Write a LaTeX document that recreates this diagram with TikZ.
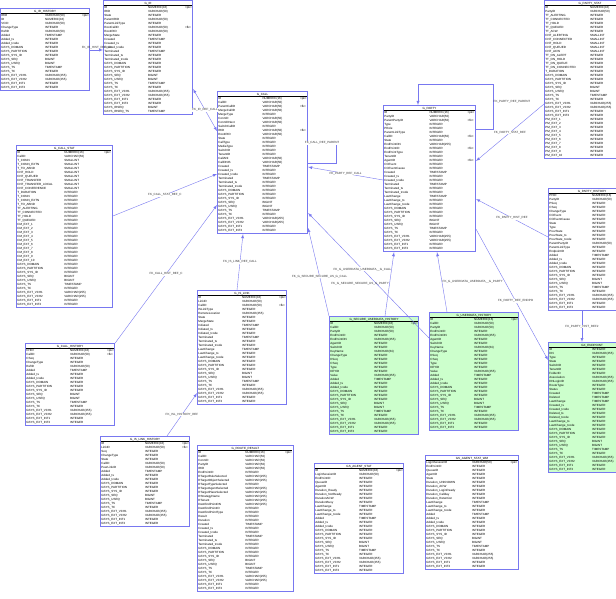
\documentclass[tikz,border=0pt]{standalone}
\usepackage{fontspec}
\setmainfont{Liberation Sans}
\usetikzlibrary{calc}
\definecolor{erline}{RGB}{120,120,240}
\definecolor{ergreen}{RGB}{204,255,204}
\tikzset{
	ertbl/.style={draw=erline, thick, anchor=north west, inner sep=1pt, font=\fontsize{3}{4}\selectfont},
	fk/.style={draw=erline, ->, >=latex},
	lbl/.style={font=\fontsize{3}{4}\selectfont, inner sep=0.5pt, text=black!80}
}
\catcode`\_=12
\newcommand\gsys{GSYS_DOMAIN&INTEGER&\\GSYS_PARTITION&INTEGER&\\GSYS_SYS_ID&INTEGER&\\GSYS_SEQ&BIGINT&\\GSYS_USEQ&BIGINT&\\GSYS_TS&TIMESTAMP&\\GSYS_TC&INTEGER&\\GSYS_EXT_VCH1&VARCHAR(255)&\\GSYS_EXT_VCH2&VARCHAR(255)&\\GSYS_EXT_INT1&INTEGER&\\GSYS_EXT_INT2&INTEGER&\\}
% name, x, y, width, fill, rows
\newcommand\ertable[6]{%
	\node[ertbl, fill=#5] (#1) at (#2,#3) {\begin{tabular}{@{}p{\dimexpr#4pt*48/100\relax}p{\dimexpr#4pt*38/100\relax}p{\dimexpr#4pt*10/100\relax}@{}}
	\multicolumn{3}{c}{#1}\\\hline #6\end{tabular}};}
\begin{document}
\begin{tikzpicture}[x=1pt, y=-1pt]
	\useasboundingbox[fill=white] (0,0) rectangle (616,599);
	\ertable{G_IR_HISTORY}{0}{8}{66}{white}{IRID&VARCHAR(50)&<pk>\\ID&NUMERIC(16)&\\VCID&VARCHAR(50)&\\ChangeType&INTEGER&\\RefID&VARCHAR(50)&\\Added&TIMESTAMP&\\Added_ts&INTEGER&\\Added_tcode&INTEGER&\\\gsys}
	\ertable{G_IR}{103}{0}{66}{white}{ID&NUMERIC(16)&<pk>\\IRID&VARCHAR(50)&\\State&INTEGER&\\ParentIRID&VARCHAR(50)&\\ParentLinkType&INTEGER&\\RootCallID&VARCHAR(50)&<fk>\\RootIRID&VARCHAR(50)&\\MergeState&INTEGER&\\Created&TIMESTAMP&\\Created_ts&INTEGER&\\Created_tcode&INTEGER&\\Terminated&TIMESTAMP&\\Terminated_ts&INTEGER&\\Terminated_tcode&INTEGER&\\\gsys GSYS_IRSEQ&BIGINT&\\GSYS_IRSEQ_TS&TIMESTAMP&\\}
	\ertable{G_CALL}{217}{91}{67}{white}{ID&NUMERIC(16)&<pk>\\CallID&VARCHAR(50)&\\ParentCallID&VARCHAR(50)&<fk>\\MergeCallID&VARCHAR(50)&\\MergeType&INTEGER&\\ConnID&VARCHAR(50)&\\ConnIDNext&VARCHAR(50)&\\SwitchCallID&INTEGER&\\IRID&VARCHAR(50)&<fk>\\RootIRID&VARCHAR(50)&\\State&INTEGER&\\CallType&INTEGER&\\MediaType&INTEGER&\\SwitchID&INTEGER&\\TenantID&INTEGER&\\CallANI&VARCHAR(50)&\\CallDNIS&VARCHAR(50)&\\Created&TIMESTAMP&\\Created_ts&INTEGER&\\Created_tcode&INTEGER&\\Terminated&TIMESTAMP&\\Terminated_ts&INTEGER&\\Terminated_tcode&INTEGER&\\\gsys}
	\ertable{G_CALL_STAT}{16}{145}{73}{white}{ID&NUMERIC(16)&<pk>\\CallID&VARCHAR(50)&\\T_CONN&SMALLINT&\\T_CONN_EXTN&SMALLINT&\\T_TO_ABND&SMALLINT&\\CNT_HOLD&SMALLINT&\\CNT_QUEUED&SMALLINT&\\CNT_TRANSFER&SMALLINT&\\CNT_TRANSFER_LOCAL&SMALLINT&\\CNT_CONFERENCE&SMALLINT&\\T_DURATION&INTEGER&\\T_CONN&INTEGER&\\T_CONN_EXTN&INTEGER&\\T_TO_ABND&INTEGER&\\TT_ALERTING&INTEGER&\\TT_CONNECTED&INTEGER&\\TT_HOLD&INTEGER&\\TT_QUEUED&INTEGER&\\CM_EXT_1&INTEGER&\\CM_EXT_2&INTEGER&\\CM_EXT_3&INTEGER&\\CM_EXT_4&INTEGER&\\CM_EXT_5&INTEGER&\\CM_EXT_6&INTEGER&\\CM_EXT_7&INTEGER&\\CM_EXT_8&INTEGER&\\CM_EXT_9&INTEGER&\\CM_EXT_10&INTEGER&\\\gsys}
	\ertable{G_PARTY}{383}{105}{69}{white}{ID&NUMERIC(16)&<pk>\\PartyID&VARCHAR(50)&\\ParentPartyID&VARCHAR(50)&<fk>\\Type&INTEGER&\\PRole&INTEGER&\\ParentLinkType&INTEGER&\\CallID&VARCHAR(50)&<fk>\\State&INTEGER&\\EndPointDN&VARCHAR(255)&\\EndPointID&INTEGER&<fk>\\EndPointType&INTEGER&\\TenantID&INTEGER&\\AgentID&INTEGER&<fk>\\CCEvent&INTEGER&\\CCEventCause&INTEGER&\\Created&TIMESTAMP&\\Created_ts&INTEGER&\\Created_tcode&INTEGER&\\Terminated&TIMESTAMP&\\Terminated_ts&INTEGER&\\Terminated_tcode&INTEGER&\\LastChange&TIMESTAMP&\\LastChange_ts&INTEGER&\\LastChange_tcode&INTEGER&\\\gsys}
	\ertable{G_PARTY_STAT}{544}{0}{68}{white}{ID&NUMERIC(16)&<pk>\\PartyID&VARCHAR(50)&\\TT_ALERTING&INTEGER&\\TT_CONNECTED&INTEGER&\\TT_HOLD&INTEGER&\\TT_QUEUED&INTEGER&\\TT_ACW&INTEGER&\\CNT_ALERTING&SMALLINT&\\CNT_CONNECTED&SMALLINT&\\CNT_HOLD&SMALLINT&\\CNT_QUEUED&SMALLINT&\\CNT_ACW&SMALLINT&\\TT_ON_ALERT&INTEGER&\\TT_ON_HOLD&INTEGER&\\TT_ON_QUEUE&INTEGER&\\TT_ON_CONNECTED&INTEGER&\\T_DURATION&INTEGER&\\\gsys PM_EXT_1&INTEGER&\\PM_EXT_2&INTEGER&\\PM_EXT_3&INTEGER&\\PM_EXT_4&INTEGER&\\PM_EXT_5&INTEGER&\\PM_EXT_6&INTEGER&\\PM_EXT_7&INTEGER&\\PM_EXT_8&INTEGER&\\PM_EXT_9&INTEGER&\\PM_EXT_10&INTEGER&\\}
	\ertable{G_PARTY_HISTORY}{548}{188}{64}{white}{PHID&NUMERIC(16)&<pk>\\PartyID&VARCHAR(50)&<fk>\\PSeq&INTEGER&\\CSeq&INTEGER&\\ChangeType&INTEGER&\\CCEvent&INTEGER&\\CCEventCause&INTEGER&\\State&INTEGER&\\Type&INTEGER&\\PrevState&INTEGER&\\PrevState_ts&INTEGER&\\PrevState_tcode&INTEGER&\\ParentPartyID&VARCHAR(50)&\\ParentLinkType&INTEGER&\\EndpointID&INTEGER&<fk>\\Added&TIMESTAMP&\\Added_ts&INTEGER&\\Added_tcode&INTEGER&\\\gsys}
	\ertable{G_CALL_HISTORY}{25}{343}{66}{white}{CHID&NUMERIC(16)&<pk>\\CallID&VARCHAR(50)&<fk>\\CSeq&INTEGER&\\ChangeType&INTEGER&\\RefID&VARCHAR(50)&\\Added&TIMESTAMP&\\Added_ts&INTEGER&\\Added_tcode&INTEGER&\\\gsys}
	\ertable{G_IS_LINK}{197}{290}{66}{white}{ID&NUMERIC(16)&<pk>\\LinkID&VARCHAR(50)&\\CallID&VARCHAR(50)&<fk>\\ISLinkType&INTEGER&\\RemoteLocation&VARCHAR(255)&\\State&INTEGER&\\MergeState&INTEGER&\\Initiated&TIMESTAMP&\\Initiated_ts&INTEGER&\\Initiated_tcode&INTEGER&\\Terminated&TIMESTAMP&\\Terminated_ts&INTEGER&\\Terminated_tcode&INTEGER&\\LastChange&TIMESTAMP&\\LastChange_ts&INTEGER&\\LastChange_tcode&INTEGER&\\\gsys}
	\ertable{G_IS_LINK_HISTORY}{100}{436}{66}{white}{ID&NUMERIC(16)&<pk>\\LinkID&VARCHAR(50)&<fk>\\Seq&INTEGER&\\ChangeType&INTEGER&\\State&INTEGER&\\CallID&VARCHAR(50)&\\PeerLinkID&VARCHAR(50)&\\Added&TIMESTAMP&\\Added_ts&INTEGER&\\Added_tcode&INTEGER&\\\gsys}
	\ertable{G_ROUTE_RESULT}{197}{445}{73}{white}{ID&NUMERIC(16)&<pk>\\CallID&VARCHAR(50)&\\ConnID&VARCHAR(50)&\\PartyID&VARCHAR(50)&\\IRID&VARCHAR(50)&\\EndPointID&INTEGER&\\RTargetRuleSelected&VARCHAR(255)&\\RTargetObjectSelected&VARCHAR(255)&\\RTargetTypeSelected&INTEGER&\\RTargetAgentSelected&VARCHAR(255)&\\RTargetPlaceSelected&VARCHAR(255)&\\RStrategyName&VARCHAR(255)&\\RTenant&VARCHAR(255)&\\DestEndPointDN&VARCHAR(255)&\\DestEndPointID&INTEGER&\\DestEndPointType&INTEGER&\\Result&INTEGER&\\Duration&INTEGER&\\Created&TIMESTAMP&\\Created_ts&INTEGER&\\Created_tcode&INTEGER&\\Terminated&TIMESTAMP&\\Terminated_ts&INTEGER&\\Terminated_tcode&INTEGER&\\\gsys}
	\ertable{G_SECURE_USERDATA_HISTORY}{329}{316}{66}{ergreen}{ID&NUMERIC(16)&<pk>\\CallID&VARCHAR(50)&\\PartyID&VARCHAR(50)&\\EndPointID&INTEGER&\\EndPointDN&VARCHAR(255)&\\AgentID&INTEGER&\\SwitchID&INTEGER&\\KeyName&VARCHAR(64)&\\ChangeType&INTEGER&\\KSeq&INTEGER&\\CSeq&INTEGER&\\Type&INTEGER&\\KEYID&INTEGER&\\Value&VARCHAR(255)&\\Added&TIMESTAMP&\\Added_ts&INTEGER&\\Added_tcode&INTEGER&\\\gsys}
	\ertable{G_USERDATA_HISTORY}{429}{312}{66}{ergreen}{ID&NUMERIC(16)&<pk>\\CallID&VARCHAR(50)&\\PartyID&VARCHAR(50)&\\EndPointID&INTEGER&\\EndPointDN&VARCHAR(255)&\\AgentID&INTEGER&\\SwitchID&INTEGER&\\KeyName&VARCHAR(64)&\\ChangeType&INTEGER&\\KSeq&INTEGER&\\CSeq&INTEGER&\\Type&INTEGER&\\KEYID&INTEGER&\\Value&VARCHAR(255)&\\Added&TIMESTAMP&\\Added_ts&INTEGER&\\Added_tcode&INTEGER&\\\gsys}
	\ertable{GX_ENDPOINT}{548}{342}{64}{ergreen}{ID&INTEGER&<pk>\\DN&VARCHAR(255)&\\Type&INTEGER&\\State&INTEGER&\\SwitchID&INTEGER&<fk>\\TenantID&INTEGER&<fk>\\FolderID&INTEGER&\\Association&VARCHAR(255)&\\DNLoginID&VARCHAR(255)&\\RouteType&INTEGER&\\Status&INTEGER&\\Created&TIMESTAMP&\\Deleted&TIMESTAMP&\\LastChange&TIMESTAMP&\\Created_ts&INTEGER&\\Created_tcode&INTEGER&\\Deleted_ts&INTEGER&\\Deleted_tcode&INTEGER&\\LastChange_ts&INTEGER&\\LastChange_tcode&INTEGER&\\\gsys}
	\ertable{GS_AGENT_STAT}{314}{463}{66}{white}{ID&NUMERIC(16)&<pk>\\LoginSessionID&VARCHAR(50)&\\EndPointID&INTEGER&\\QueueID&INTEGER&\\AgentID&INTEGER&\\Duration_Ready&INTEGER&\\Duration_NotReady&INTEGER&\\DurationACW&INTEGER&\\DurationBusy&INTEGER&\\LastChange&TIMESTAMP&\\LastChange_ts&INTEGER&\\LastChange_tcode&INTEGER&\\Added&TIMESTAMP&\\Added_ts&INTEGER&\\Added_tcode&INTEGER&\\\gsys}
	\ertable{GS_AGENT_STAT_WM}{425}{455}{70}{white}{LoginSessionID&VARCHAR(50)&<pk>\\EndPointID&INTEGER&\\QueueID&INTEGER&\\AgentID&INTEGER&\\State&INTEGER&\\Duration_UNKNOWN&INTEGER&\\Duration_ACW&INTEGER&\\Duration_LoginReady&INTEGER&\\Duration_Callday&INTEGER&\\Duration_Retention&INTEGER&\\LastChange&TIMESTAMP&\\LastChange_ts&INTEGER&\\LastChange_tcode&INTEGER&\\Added&TIMESTAMP&\\Added_ts&INTEGER&\\Added_tcode&INTEGER&\\\gsys}
	% references
	\draw[fk] ([yshift=-42pt]G_IR_HISTORY.north east) -- node[lbl, above]{FK_IR_HIST_REF_IR} ([yshift=-50pt]G_IR.north west);
	\draw[fk, <->] ([yshift=-40pt]G_CALL.north west) -- node[lbl, fill=white]{FK_IR_REF_CALL} ([yshift=-89pt]G_IR.north east);
	\draw[fk] ([yshift=-72pt]G_CALL.north east) -- ++(28,0) |- node[lbl, pos=0.75, fill=white]{FK_CALL_REF_PARENT} ([yshift=-52pt]G_CALL.north east);
	\draw[fk] ([yshift=-71pt]G_CALL_STAT.north east) -- node[lbl, fill=white]{FK_CALL_STAT_REF_C} ([yshift=-83pt]G_CALL.north west);
	\draw[fk] (G_CALL_HISTORY.north east) -- node[lbl, fill=white]{FK_CALL_HIST_REF_C} ([yshift=-114pt]G_CALL.north west);
	\draw[fk] ([xshift=40pt]G_IS_LINK.north west) -- node[lbl, fill=white]{FK_IS_LINK_REF_CALL} ([xshift=26pt]G_CALL.south west);
	\draw[fk] ([yshift=-75pt]G_PARTY.north west) -- node[lbl, fill=white]{FK_PARTY_REF_CALL} ([yshift=-76pt]G_CALL.north east);
	\draw[fk] ([yshift=-24pt]G_PARTY.north east) -- ++(17,0) |- node[lbl, pos=0.3, right]{FK_PARTY_REF_PARENT} ([xshift=35pt, yshift=21pt]G_PARTY.north west) -- ([xshift=35pt]G_PARTY.north west);
	\draw[fk] ([yshift=-104pt]G_PARTY_STAT.north west) -- node[lbl, fill=white]{FK_PARTY_STAT_REF} ([yshift=-56pt]G_PARTY.north east);
	\draw[fk] ([yshift=-49pt]G_PARTY_HISTORY.north west) -- node[lbl, fill=white]{FK_PARTY_HIST_REF} ([yshift=-94pt]G_PARTY.north east);
	\draw[fk] (G_SECURE_USERDATA_HISTORY.north west) -- node[lbl, fill=white, pos=0.45]{FK_G_SECURE_SECURE_US_G_CALL} ([yshift=-137pt]G_CALL.north east);
	\draw[fk] ([yshift=-26pt]G_USERDATA_HISTORY.north west) -- node[lbl, fill=white, pos=0.55]{FK_G_USERDATA_USERDATA__G_CALL} ([yshift=-122pt]G_CALL.north east);
	\draw[fk] ([xshift=56pt]G_SECURE_USERDATA_HISTORY.north west) -- node[lbl, left, pos=0.5]{FK_G_SECURE_SECURE_US_G_PARTY} ([xshift=11pt]G_PARTY.south west);
	\draw[fk] ([xshift=18pt]G_USERDATA_HISTORY.north west) -- node[lbl, right, pos=0.5]{FK_G_USERDATA_USERDATA__G_PARTY} ([xshift=54pt]G_PARTY.south west);
	\draw[fk] ([yshift=23pt]G_PARTY.south east) -- node[lbl, fill=white, pos=0.55]{FK_PARTY_REF_ENDPO} ([yshift=-18pt]GX_ENDPOINT.north west);
	\draw[fk] ([xshift=34pt]G_PARTY_HISTORY.south west) -- node[lbl, fill=white]{FK_PARTY_HIST_REF2} ([xshift=34pt]GX_ENDPOINT.north west);
	\draw[fk] ([xshift=67pt]G_IS_LINK_HISTORY.north west) -- node[lbl, fill=white]{FK_ISL_HISTORY_REF} ([yshift=12pt]G_IS_LINK.south west);
\end{tikzpicture}
\end{document}
